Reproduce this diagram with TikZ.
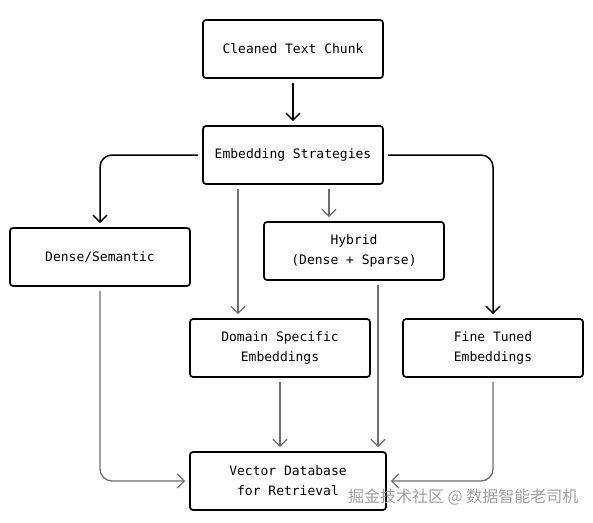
\documentclass[tikz,border=0pt]{standalone}
\usepackage{fontspec}
\setmonofont{DejaVu Sans Mono}
\newfontfamily\cjk{Noto Sans CJK SC}
\usetikzlibrary{arrows.meta}
\definecolor{linegray}{HTML}{6E6E6E}
\tikzset{
	stagebox/.style={draw,line width=1.7pt,rounded corners=3pt,minimum width=180pt,minimum height=58pt,align=center,font=\ttfamily\fontsize{13}{20}\selectfont},
	barrow/.style={-{Straight Barb[length=7pt,width=14pt]},line width=1.5pt,rounded corners=12pt,shorten >=4pt,shorten <=4pt},
	garrow/.style={barrow,draw=linegray,line width=1.3pt}
}
\begin{document}
\begin{tikzpicture}[x=1pt,y=-1pt]
	\useasboundingbox[fill=white](0,0)rectangle(593,522);
	\node[stagebox](chunk)at(293,49){Cleaned Text Chunk};
	\node[stagebox](embed)at(293,155){Embedding Strategies};
	\node[stagebox](dense)at(100,257){Dense/Semantic};
	\node[stagebox](hybrid)at(354,251){Hybrid\\(Dense + Sparse)};
	\node[stagebox](domain)at(280,348){Domain Specific\\Embeddings};
	\node[stagebox](tuned)at(493,348){Fine Tuned\\Embeddings};
	\node[stagebox,minimum width=196pt](vecdb)at(288,481){Vector Database\\for Retrieval};
	% strategies
	\draw[barrow](chunk)--(embed);
	\draw[barrow](embed.west)-|(dense.north);
	\draw[barrow](embed.east)-|(tuned.north);
	\draw[garrow]([xshift=-55pt]embed.south)--([xshift=-42pt]domain.north);
	\draw[garrow]([xshift=36pt]embed.south)--([xshift=-25pt]hybrid.north);
	% into the database
	\draw[garrow](dense.south)|-(vecdb.west);
	\draw[garrow](domain.south)--([xshift=-8pt]vecdb.north);
	\draw[garrow]([xshift=24pt]hybrid.south)--([xshift=90pt]vecdb.north);
	\draw[garrow](tuned.south)|-(vecdb.east);
	\node[text=gray!75,font=\cjk\fontsize{16}{16}\selectfont,anchor=east](mark)at(582,497){掘金技术社区 @ 数据智能老司机};
\end{tikzpicture}
\end{document}
